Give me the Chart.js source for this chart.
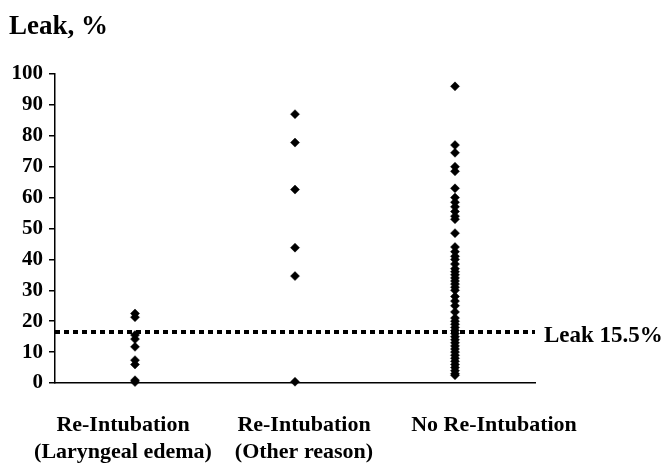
<!DOCTYPE html>
<html>
<head>
<meta charset="utf-8">
<script src="https://cdn.jsdelivr.net/npm/chart.js@4"></script>
<style>
  html, body { margin: 0; padding: 0; background: #fff; }
  #wrap { width: 664px; height: 467px; position: relative; }
</style>
</head>
<body>
<div id="wrap"><canvas id="c" width="664" height="467"></canvas></div>
<script>
// ---- data ----
const categories = [
  ["Re-Intubation", "(Laryngeal edema)"],
  ["Re-Intubation", "(Other reason)"],
  ["No Re-Intubation"]
];
const laryngealEdema = [22.5, 21.3, 15.5, 14.2, 11.7, 7.4, 6.0, 0.9, 0.3];
const otherReason = [87, 77.8, 62.6, 43.8, 34.6, 0.4];
const noReintubation = [96, 77, 74.5, 70, 68.5, 63, 60, 58.5, 57, 55.5, 54, 53, 48.5,
  44, 42.5, 41, 40, 38.5, 37, 36, 35, 34, 33, 32, 31, 30, 28, 26.5, 25, 23, 21,
  20, 19, 18, 17, 16, 15, 14, 13, 12, 11, 10, 9, 8, 7, 6, 5, 4, 3, 2.5];
const leakCutoff = 16.5;
const leakLabel = "Leak 15.5%";
const yTicks = [0, 10, 20, 30, 40, 50, 60, 70, 80, 90, 100];
const yTitle = "Leak, %";

const groups = [laryngealEdema, otherReason, noReintubation];
const points = [];
groups.forEach((arr, i) => arr.forEach(v => points.push({ x: i + 1, y: v })));

const SERIF = "'Liberation Serif', 'Times New Roman', serif";

const labelsPlugin = {
  id: 'labels',
  afterDraw(chart) {
    const ctx = chart.ctx;
    const xs = chart.scales.x, ys = chart.scales.y;
    ctx.save();
    ctx.fillStyle = '#000';
    // title
    ctx.font = "bold 27px " + SERIF;
    ctx.textAlign = 'left';
    ctx.textBaseline = 'alphabetic';
    ctx.fillText(yTitle, 9, 34);
    // leak label
    ctx.font = "bold 23px " + SERIF;
    ctx.textBaseline = 'middle';
    ctx.fillText(leakLabel, chart.chartArea.right + 9, ys.getPixelForValue(leakCutoff) + 4);
    // category labels
    const offsets = [-12, 9, 39];
    ctx.font = "bold 22px " + SERIF;
    ctx.textAlign = 'center';
    ctx.textBaseline = 'middle';
    categories.forEach((lines, i) => {
      const cx = xs.getPixelForValue(i + 1) + offsets[i];
      lines.forEach((t, j) => {
        ctx.fillText(t, cx, chart.chartArea.bottom + 42 + j * 27);
      });
    });
    ctx.restore();
  }
};

new Chart(document.getElementById('c'), {
  type: 'scatter',
  data: {
    datasets: [
      {
        label: 'points',
        data: points,
        pointStyle: 'rectRot',
        pointRadius: 4.5,
        pointBorderWidth: 0.5,
        backgroundColor: '#000',
        borderColor: '#000',
        clip: false,
        order: 1
      },
      {
        label: 'cutoff',
        type: 'line',
        data: [{ x: 0.5, y: leakCutoff }, { x: 3.5, y: leakCutoff }],
        borderColor: '#000',
        borderWidth: 4,
        borderDash: [5, 4],
        pointRadius: 0,
        fill: false,
        order: 2
      }
    ]
  },
  options: {
    responsive: false,
    animation: false,
    events: [],
    layout: { padding: { left: 0, right: 129, top: 74, bottom: 0 } },
    plugins: { legend: { display: false }, tooltip: { enabled: false } },
    scales: {
      x: {
        type: 'linear',
        min: 0.5, max: 3.5,
        grid: { display: false },
        border: { display: true, color: '#000', width: 1.5 },
        ticks: { display: false },
        afterFit(s) { s.height = 84; }
      },
      y: {
        min: 0, max: 100,
        afterBuildTicks(s) { s.ticks = yTicks.map(v => ({ value: v })); },
        grid: { drawOnChartArea: false, drawTicks: true, tickLength: 6, color: '#000', lineWidth: 1.5 },
        border: { display: true, color: '#000', width: 1.5 },
        ticks: {
          color: '#000',
          padding: 6,
          font: { family: SERIF, size: 21, weight: 'bold' }
        },
        afterFit(s) { s.width = 55; }
      }
    }
  },
  plugins: [labelsPlugin]
});
</script>
</body>
</html>
